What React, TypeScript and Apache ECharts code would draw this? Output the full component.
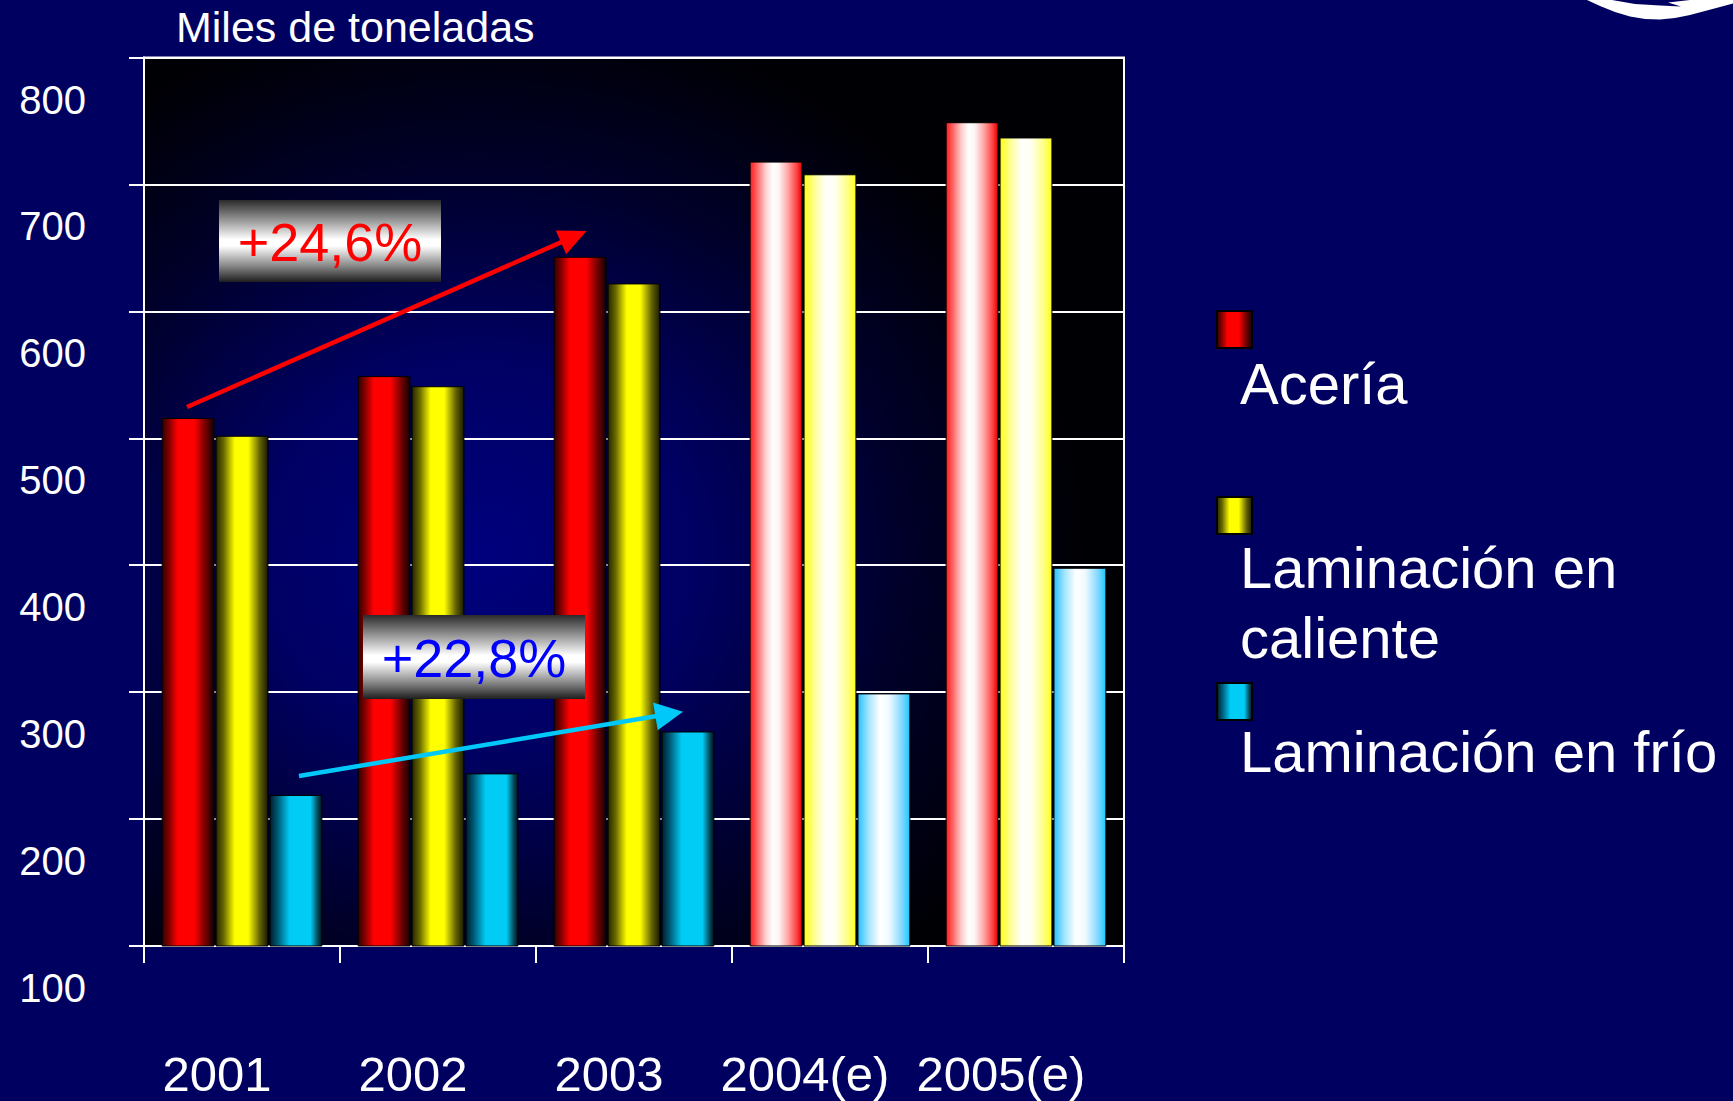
import React, { useEffect, useRef } from "react";
import * as echarts from "echarts";

// ---------- data ----------
const categories = ["2001", "2002", "2003", "2004(e)", "2005(e)"];
const aceria = [516, 549, 643, 718, 749];
const lamCaliente = [502, 541, 622, 708, 737];
const lamFrio = [219, 236, 269, 299, 398];
const estimated = [false, false, false, true, true];
const seriesNames = ["Acería", "Laminación en caliente", "Laminación en frío"];
const legendLabels = ["Acería", "Laminación en\ncaliente", "Laminación en frío"];
const yMin = 100;
const yMax = 800;
const yStep = 100;
const titleText = "Miles de toneladas";
const noteTexts = ["+24,6%", "+22,8%"];

const FONT = '"Liberation Sans", Arial, Helvetica, sans-serif';

type Stop = [number, string];
const hGrad = (stops: Stop[]) =>
  new echarts.graphic.LinearGradient(
    0, 0, 1, 0,
    stops.map(([offset, color]) => ({ offset, color }))
  );
const vGrad = (stops: Stop[]) =>
  new echarts.graphic.LinearGradient(
    0, 0, 0, 1,
    stops.map(([offset, color]) => ({ offset, color }))
  );

const solidRed = hGrad([
  [0, "#300000"], [0.12, "#7a0000"], [0.3, "#ff0000"], [0.62, "#ff0000"], [0.85, "#6a0000"], [1, "#120000"],
]);
const solidYellow = hGrad([
  [0, "#262600"], [0.15, "#6a6a00"], [0.36, "#ffff00"], [0.62, "#ffff00"], [0.85, "#5e5e00"], [1, "#1a1a00"],
]);
const solidCyan = hGrad([
  [0, "#001c28"], [0.15, "#005a78"], [0.38, "#00ccf5"], [0.78, "#00ccf5"], [0.92, "#004a5c"], [1, "#00141c"],
]);
const paleRed = hGrad([
  [0, "#ff1a1a"], [0.12, "#ff6060"], [0.3, "#ffd0d0"], [0.44, "#ffffff"], [0.55, "#fff4f4"], [0.72, "#ffaaaa"], [0.9, "#ff4040"], [1, "#e00000"],
]);
const paleYellow = hGrad([
  [0, "#ffff10"], [0.22, "#ffffa0"], [0.42, "#ffffff"], [0.6, "#fffff0"], [0.85, "#ffff80"], [1, "#ffff18"],
]);
const paleCyan = hGrad([
  [0, "#28c0ff"], [0.2, "#a0e4ff"], [0.42, "#ffffff"], [0.6, "#f0fbff"], [0.85, "#80d8ff"], [1, "#18c8ff"],
]);
const boxGrad = () =>
  vGrad([
    [0, "#2a2a2a"], [0.25, "#999999"], [0.48, "#ffffff"], [0.56, "#ffffff"], [0.8, "#8a8a8a"], [1, "#1e1e1e"],
  ]);

function arrow(x1: number, y1: number, x2: number, y2: number, color: string, len: number, half: number) {
  const dx = x2 - x1;
  const dy = y2 - y1;
  const d = Math.hypot(dx, dy);
  const ux = dx / d;
  const uy = dy / d;
  const bx = x2 - ux * len;
  const by = y2 - uy * len;
  return [
    {
      type: "line",
      z: 100,
      shape: { x1, y1, x2: bx + ux * 3, y2: by + uy * 3 },
      style: { stroke: color, lineWidth: 4.5 },
    },
    {
      type: "polygon",
      z: 101,
      shape: {
        points: [
          [x2, y2],
          [bx - uy * half, by + ux * half],
          [bx + uy * half, by - ux * half],
        ],
      },
      style: { fill: color },
    },
  ];
}

function noteBox(x: number, y: number, w: number, h: number, text: string, color: string) {
  return [
    {
      type: "rect",
      z: 102,
      shape: { x, y, width: w, height: h },
      style: { fill: boxGrad() },
    },
    {
      type: "text",
      z: 103,
      x: x + w / 2,
      y: y + h / 2 + 1,
      style: {
        text,
        fill: color,
        font: `54px ${FONT}`,
        align: "center",
        verticalAlign: "middle",
        textShadowColor: "#ffffff",
        textShadowOffsetX: 2,
        textShadowOffsetY: 2,
        textShadowBlur: 0,
      },
    },
  ];
}

export default function App() {
  const ref = useRef<HTMLDivElement>(null);

  useEffect(() => {
    document.body.style.margin = "0";
    const el = ref.current;
    if (!el) return;
    const chart = echarts.init(el, null, { renderer: "svg" });

    const makeData = (vals: number[], pale: any) =>
      vals.map((v, i) => (estimated[i] ? { value: v, itemStyle: { color: pale } } : v));

    const barBase = {
      type: "bar",
      barGap: "2%",
      barCategoryGap: "18%",
    };

    const legendTextY = [383, 602.5, 751];

    const option: any = {
      animation: false,
      backgroundColor: "#000060",
      title: {
        text: titleText,
        left: 176,
        top: 5.5,
        padding: 0,
        textStyle: {
          color: "#ffffff",
          fontSize: 43,
          lineHeight: 43,
          fontWeight: "normal",
          fontFamily: FONT,
          textShadowColor: "#000000",
          textShadowOffsetX: 2,
          textShadowOffsetY: 2,
          textShadowBlur: 0,
        },
      },
      legend: {
        orient: "vertical",
        left: 1216,
        top: 310,
        padding: 0,
        itemWidth: 35,
        itemHeight: 37,
        itemGap: 147,
        icon: "rect",
        selectedMode: false,
        data: seriesNames,
        formatter: () => "",
        textStyle: { fontSize: 1, color: "rgba(0,0,0,0)" },
      },
      grid: {
        left: 144,
        right: 609,
        top: 57.5,
        bottom: 155,
        show: true,
        containLabel: false,
        outerBoundsMode: "none",
        borderColor: "#ffffff",
        borderWidth: 2,
        backgroundColor: new echarts.graphic.RadialGradient(0.34, 0.56, 0.62, [
          { offset: 0, color: "#00007e" },
          { offset: 0.35, color: "#000064" },
          { offset: 0.7, color: "#00002a" },
          { offset: 1, color: "#000004" },
        ]),
      },
      xAxis: {
        type: "category",
        data: categories,
        axisLine: { show: true, lineStyle: { color: "#ffffff", width: 2 } },
        axisTick: { show: true, length: 17, lineStyle: { color: "#ffffff", width: 2 } },
        axisLabel: {
          interval: 0,
          color: "#ffffff",
          fontSize: 49,
          lineHeight: 49,
          fontFamily: FONT,
          margin: 103,
          padding: [0, 50, 0, 0],
        },
        splitLine: { show: false },
      },
      yAxis: {
        type: "value",
        min: yMin,
        max: yMax,
        interval: yStep,
        axisLine: { show: true, lineStyle: { color: "#ffffff", width: 2 } },
        axisTick: { show: true, length: 15, lineStyle: { color: "#ffffff", width: 2 } },
        axisLabel: {
          color: "#ffffff",
          fontSize: 40,
          lineHeight: 40,
          fontFamily: FONT,
          margin: 58,
          verticalAlign: "top",
          padding: [22, 0, 0, 0],
        },
        splitLine: { show: true, lineStyle: { color: "#ffffff", width: 2 } },
      },
      series: [
        {
          ...barBase,
          name: seriesNames[0],
          data: makeData(aceria, paleRed),
          itemStyle: { color: solidRed, borderColor: "#000000", borderWidth: 1 },
        },
        {
          ...barBase,
          name: seriesNames[1],
          data: makeData(lamCaliente, paleYellow),
          itemStyle: { color: solidYellow, borderColor: "#000000", borderWidth: 1 },
        },
        {
          ...barBase,
          name: seriesNames[2],
          data: makeData(lamFrio, paleCyan),
          itemStyle: { color: solidCyan, borderColor: "#000000", borderWidth: 1 },
        },
      ],
      graphic: [
        // corner logo fragment
        {
          type: "polygon",
          z: 100,
          shape: {
            points: [
              [1587, 0], [1600, 6], [1615, 12], [1630, 16.5], [1645, 19], [1660, 19.5],
              [1675, 18], [1690, 15], [1705, 11], [1720, 7], [1733, 3.5], [1733, 0],
            ],
          },
          style: { fill: "#ffffff" },
        },
        {
          type: "polygon",
          z: 101,
          shape: { points: [[1612, 0], [1635, 4], [1660, 5.5], [1681, 6.5], [1668, 2.5], [1690, 0]] },
          style: { fill: "#000060" },
        },
        ...arrow(187, 407, 586.6, 231, "#ff0000", 28, 13),
        ...arrow(299, 776, 683, 711.7, "#00c8f8", 28, 14),
        ...noteBox(219, 200, 222, 82, noteTexts[0], "#ff0000"),
        ...noteBox(363, 615, 222, 84, noteTexts[1], "#0000ff"),
        ...legendLabels.map((label, i) => ({
          type: "text",
          z: 100,
          x: 1240,
          y: legendTextY[i],
          style: {
            text: label,
            fill: "#ffffff",
            font: `58px ${FONT}`,
            lineHeight: 70,
            align: "left",
            verticalAlign: "middle",
          },
        })),
      ],
    };

    chart.setOption(option);
    return () => chart.dispose();
  }, []);

  return (
    <div
      ref={ref}
      style={{ position: "fixed", left: 0, top: 0, width: 1733, height: 1101 }}
    />
  );
}
